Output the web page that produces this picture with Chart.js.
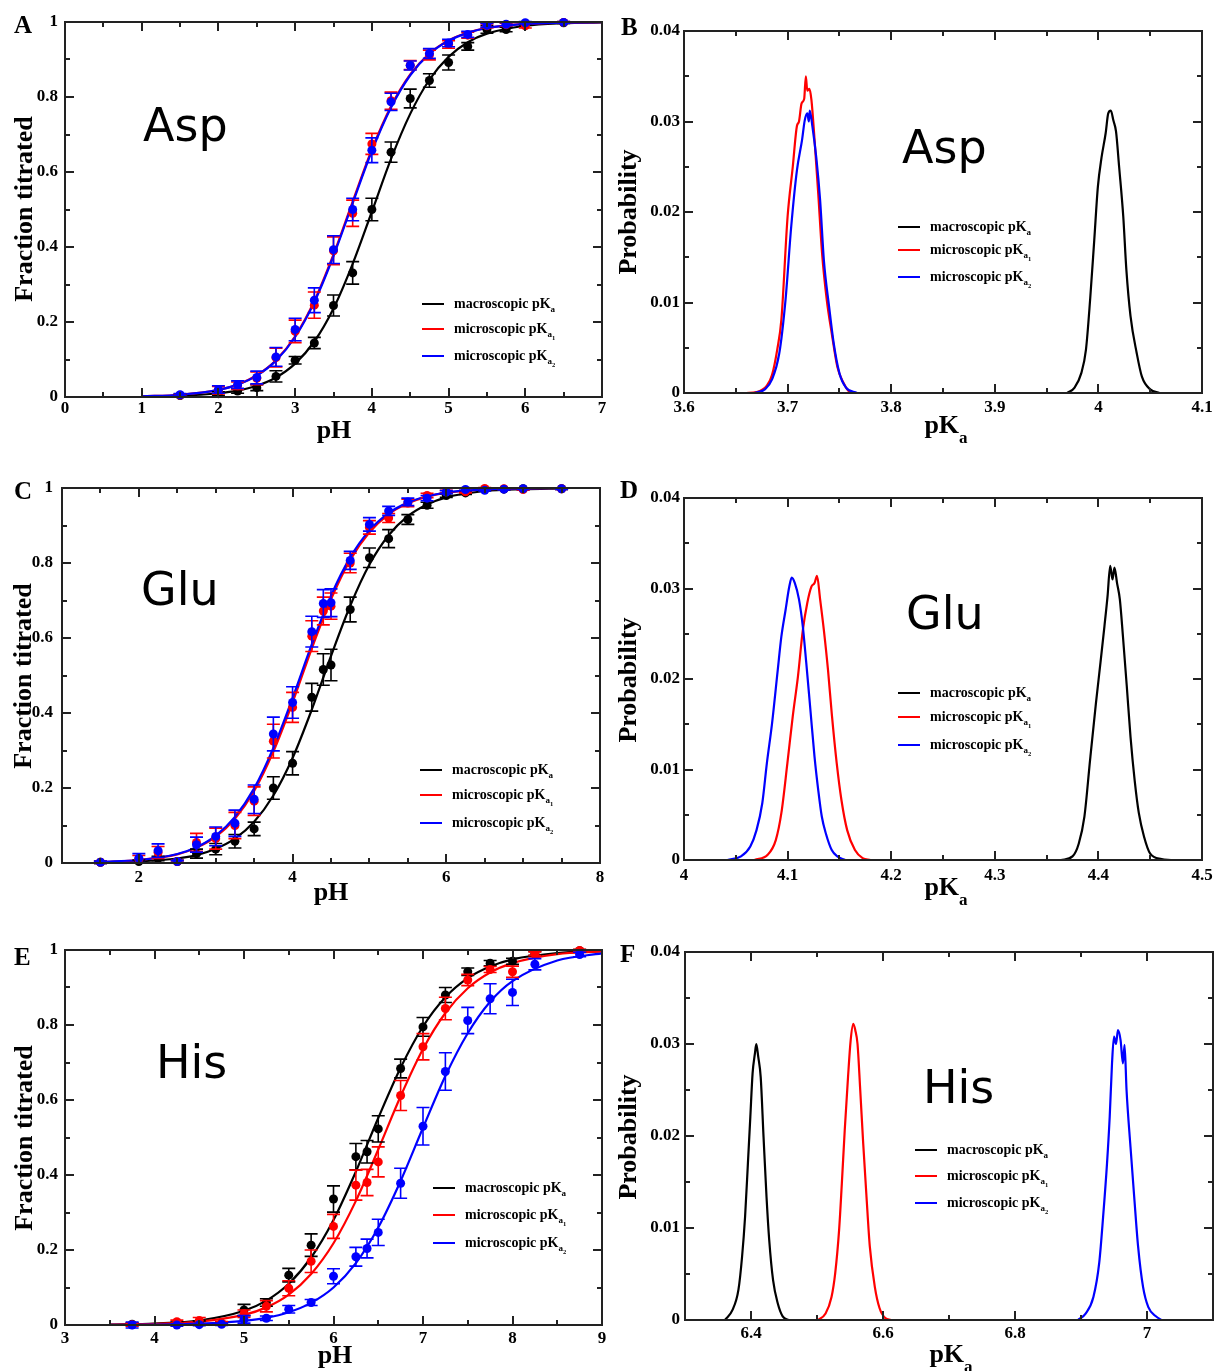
<!DOCTYPE html>
<html>
<head>
<meta charset="utf-8">
<title>pKa titration</title>
<script src="https://cdn.jsdelivr.net/npm/chart.js@4.4.1/dist/chart.umd.min.js"></script>
<style>
  html, body { margin: 0; padding: 0; background: #fff; overflow: hidden; }
  #page { position: relative; width: 1214px; height: 1371px; }
  #page canvas { position: absolute; }
</style>
</head>
<body>
<div id="page"></div>
<script>
// ---- Asp titration (A)
const aspPH = [1.5, 2, 2.25, 2.5, 2.75, 3, 3.25, 3.5, 3.75, 4, 4.25, 4.5, 4.75, 5, 5.25, 5.5, 5.75, 6, 6.5];
const aspMacro = [0.004, 0.009, 0.016, 0.025, 0.055, 0.098, 0.144, 0.244, 0.331, 0.50, 0.653, 0.796, 0.844, 0.892, 0.935, 0.98, 0.98, 0.996, 0.998];
const aspMacroErr = [0.003, 0.005, 0.006, 0.008, 0.015, 0.01, 0.015, 0.028, 0.03, 0.03, 0.027, 0.025, 0.018, 0.02, 0.01, 0.01, 0.006, 0.004, 0.002];
const aspMicro1 = [0.005, 0.018, 0.03, 0.05, 0.105, 0.175, 0.245, 0.39, 0.49, 0.675, 0.79, 0.885, 0.912, 0.94, 0.965, 0.99, 0.993, 0.99, 0.999];
const aspMicro1Err = [0.003, 0.01, 0.01, 0.017, 0.025, 0.03, 0.035, 0.037, 0.035, 0.028, 0.023, 0.012, 0.013, 0.01, 0.008, 0.005, 0.004, 0.006, 0.002];
const aspMicro2 = [0.006, 0.02, 0.033, 0.052, 0.107, 0.18, 0.258, 0.393, 0.50, 0.658, 0.787, 0.884, 0.916, 0.944, 0.967, 0.991, 0.994, 0.998, 0.999];
const aspMicro2Err = [0.003, 0.01, 0.01, 0.017, 0.025, 0.03, 0.033, 0.037, 0.03, 0.033, 0.023, 0.012, 0.013, 0.01, 0.008, 0.005, 0.004, 0.003, 0.002];
const aspFitPH = [1, 1.5, 2, 2.25, 2.5, 2.75, 3, 3.25, 3.5, 3.75, 4, 4.25, 4.5, 4.75, 5, 5.25, 5.5, 6, 6.5, 7];
const aspMacroFit = [0.001, 0.003, 0.010, 0.017, 0.030, 0.052, 0.089, 0.148, 0.236, 0.355, 0.494, 0.635, 0.755, 0.846, 0.907, 0.946, 0.969, 0.990, 0.997, 0.999];
const aspMicro1Fit = [0.002, 0.006, 0.019, 0.033, 0.058, 0.098, 0.162, 0.256, 0.380, 0.521, 0.660, 0.775, 0.860, 0.916, 0.951, 0.972, 0.984, 0.995, 0.998, 0.9995];
const aspMicro2Fit = [0.002, 0.006, 0.019, 0.033, 0.057, 0.097, 0.160, 0.253, 0.376, 0.517, 0.656, 0.772, 0.858, 0.915, 0.950, 0.971, 0.984, 0.995, 0.998, 0.9995];

// ---- Glu titration (C)
const gluPH = [1.5, 2, 2.25, 2.5, 2.75, 3, 3.25, 3.5, 3.75, 4, 4.25, 4.4, 4.5, 4.75, 5, 5.25, 5.5, 5.75, 6, 6.25, 6.5, 6.75, 7, 7.5];
const gluMacro = [0.002, 0.004, 0.012, 0.004, 0.025, 0.037, 0.058, 0.091, 0.20, 0.266, 0.442, 0.516, 0.528, 0.676, 0.814, 0.865, 0.916, 0.954, 0.98, 0.987, 0.996, 0.997, 0.998, 0.998];
const gluMacroErr = [0.003, 0.004, 0.006, 0.003, 0.012, 0.015, 0.018, 0.018, 0.03, 0.031, 0.037, 0.042, 0.042, 0.033, 0.026, 0.024, 0.013, 0.008, 0.005, 0.004, 0.003, 0.002, 0.002, 0.002];
const gluMicro1 = [0.002, 0.01, 0.028, 0.004, 0.055, 0.065, 0.10, 0.165, 0.325, 0.415, 0.605, 0.672, 0.685, 0.80, 0.895, 0.92, 0.96, 0.98, 0.99, 0.99, 0.999, 0.998, 0.996, 0.998];
const gluMicro1Err = [0.003, 0.01, 0.016, 0.003, 0.024, 0.028, 0.035, 0.038, 0.045, 0.04, 0.041, 0.037, 0.035, 0.026, 0.018, 0.012, 0.01, 0.006, 0.004, 0.003, 0.002, 0.002, 0.002, 0.002];
const gluMicro2 = [0.002, 0.013, 0.033, 0.004, 0.049, 0.071, 0.106, 0.17, 0.344, 0.428, 0.617, 0.692, 0.694, 0.807, 0.903, 0.939, 0.963, 0.973, 0.989, 0.996, 0.994, 0.997, 0.998, 0.998];
const gluMicro2Err = [0.003, 0.012, 0.018, 0.003, 0.02, 0.025, 0.035, 0.038, 0.045, 0.042, 0.041, 0.037, 0.037, 0.024, 0.018, 0.012, 0.01, 0.007, 0.004, 0.003, 0.002, 0.002, 0.002, 0.002];
const gluFitPH = [1.5, 2, 2.5, 2.75, 3, 3.25, 3.5, 3.75, 4, 4.25, 4.5, 4.75, 5, 5.25, 5.5, 5.75, 6, 6.5, 7, 7.5];
const gluMacroFit = [0.001, 0.004, 0.012, 0.021, 0.038, 0.065, 0.110, 0.180, 0.280, 0.409, 0.552, 0.686, 0.796, 0.874, 0.925, 0.956, 0.975, 0.992, 0.997, 0.999];
const gluMicro1Fit = [0.002, 0.008, 0.023, 0.041, 0.070, 0.118, 0.192, 0.297, 0.428, 0.572, 0.703, 0.808, 0.882, 0.930, 0.959, 0.977, 0.987, 0.996, 0.999, 1.0];
const gluMicro2Fit = [0.003, 0.008, 0.024, 0.042, 0.073, 0.123, 0.199, 0.307, 0.440, 0.583, 0.713, 0.815, 0.887, 0.933, 0.961, 0.978, 0.988, 0.996, 0.999, 1.0];

// ---- His titration (E)
const hisPH = [3.75, 4.25, 4.5, 4.75, 5, 5.25, 5.5, 5.75, 6, 6.25, 6.375, 6.5, 6.75, 7, 7.25, 7.5, 7.75, 8, 8.25, 8.75];
const hisMacro = [0.002, 0.004, 0.006, 0.004, 0.04, 0.06, 0.133, 0.213, 0.336, 0.449, 0.462, 0.523, 0.684, 0.795, 0.88, 0.942, 0.965, 0.97, 0.991, 0.998];
const hisMacroErr = [0.004, 0.004, 0.005, 0.004, 0.015, 0.01, 0.018, 0.03, 0.035, 0.035, 0.03, 0.035, 0.025, 0.025, 0.02, 0.01, 0.007, 0.008, 0.005, 0.003];
const hisMicro1 = [0.001, 0.009, 0.012, 0.005, 0.03, 0.05, 0.098, 0.17, 0.263, 0.373, 0.38, 0.435, 0.612, 0.742, 0.844, 0.92, 0.948, 0.942, 0.99, 0.999];
const hisMicro1Err = [0.004, 0.004, 0.008, 0.004, 0.01, 0.015, 0.02, 0.03, 0.032, 0.04, 0.035, 0.04, 0.04, 0.035, 0.03, 0.015, 0.008, 0.015, 0.005, 0.003];
const hisMicro2 = [0.0, 0.0, 0.001, 0.002, 0.015, 0.018, 0.042, 0.06, 0.13, 0.182, 0.204, 0.247, 0.378, 0.53, 0.676, 0.812, 0.87, 0.887, 0.962, 0.988];
const hisMicro2Err = [0.008, 0.003, 0.003, 0.003, 0.01, 0.006, 0.01, 0.008, 0.02, 0.025, 0.025, 0.035, 0.04, 0.05, 0.05, 0.035, 0.04, 0.035, 0.015, 0.006];
const hisFitPH = [3.5, 4, 4.5, 5, 5.25, 5.5, 5.75, 6, 6.25, 6.5, 6.75, 7, 7.25, 7.5, 7.75, 8, 8.5, 9];
const hisMacroFit = [0.001, 0.004, 0.012, 0.038, 0.065, 0.110, 0.180, 0.280, 0.409, 0.552, 0.686, 0.796, 0.874, 0.925, 0.956, 0.975, 0.992, 0.997];
const hisMicro1Fit = [0.001, 0.003, 0.009, 0.027, 0.047, 0.081, 0.136, 0.218, 0.331, 0.468, 0.610, 0.736, 0.832, 0.898, 0.940, 0.965, 0.989, 0.996];
const hisMicro2Fit = [0.0004, 0.001, 0.0035, 0.011, 0.019, 0.034, 0.059, 0.100, 0.165, 0.260, 0.384, 0.526, 0.664, 0.778, 0.862, 0.917, 0.972, 0.991];

// ---- pKa distributions (B, D, F)
const aspMacroPka = [3.970, 3.977, 3.9835, 3.988, 3.992, 3.996, 3.9995, 4.003, 4.007, 4.0095, 4.012, 4.0145, 4.017, 4.020, 4.024, 4.027, 4.031, 4.037, 4.042, 4.050, 4.059];
const aspMacroProb = [0, 0.0006, 0.0022, 0.0048, 0.0103, 0.0169, 0.0228, 0.026, 0.0287, 0.0309, 0.0312, 0.0301, 0.0289, 0.025, 0.0195, 0.0136, 0.0085, 0.0044, 0.0018, 0.0004, 0];
const aspMicro1Pka = [3.660, 3.670, 3.680, 3.685, 3.690, 3.694, 3.700, 3.705, 3.709, 3.711, 3.7135, 3.7160, 3.7176, 3.7190, 3.7210, 3.7230, 3.7260, 3.7296, 3.7333, 3.7378, 3.7426, 3.7480, 3.7540, 3.7590, 3.7630];
const aspMicro1Prob = [0, 0.0001, 0.0008, 0.002, 0.0048, 0.0081, 0.0195, 0.025, 0.0295, 0.0300, 0.0320, 0.0325, 0.0350, 0.0334, 0.0336, 0.0324, 0.028, 0.022, 0.0154, 0.0103, 0.0066, 0.0029, 0.0011, 0.0002, 0];
const aspMicro2Pka = [3.668, 3.678, 3.685, 3.692, 3.698, 3.7035, 3.709, 3.714, 3.7165, 3.719, 3.7205, 3.7214, 3.724, 3.7277, 3.7314, 3.735, 3.740, 3.7445, 3.750, 3.7564, 3.767];
const aspMicro2Prob = [0, 0.0004, 0.0015, 0.0044, 0.0103, 0.0184, 0.0246, 0.028, 0.0301, 0.0309, 0.0300, 0.0312, 0.0294, 0.026, 0.0213, 0.0147, 0.0096, 0.0055, 0.0022, 0.0006, 0];

const gluMacroPka = [4.364, 4.375, 4.381, 4.3865, 4.392, 4.3976, 4.402, 4.4058, 4.4088, 4.4114, 4.4136, 4.4155, 4.418, 4.4207, 4.4237, 4.4274, 4.431, 4.435, 4.439, 4.444, 4.450, 4.461, 4.470];
const gluMacroProb = [0, 0.0004, 0.0018, 0.0048, 0.0111, 0.0173, 0.0218, 0.0258, 0.0291, 0.0325, 0.031, 0.0323, 0.0306, 0.0288, 0.0247, 0.0192, 0.0136, 0.0088, 0.0052, 0.0026, 0.0007, 0.0001, 0];
const gluMicro1Pka = [4.068, 4.081, 4.0886, 4.094, 4.0998, 4.105, 4.110, 4.1147, 4.119, 4.123, 4.126, 4.1284, 4.1314, 4.135, 4.139, 4.1426, 4.1474, 4.152, 4.1575, 4.165, 4.1724, 4.180];
const gluMicro1Prob = [0, 0.0006, 0.0022, 0.0052, 0.0107, 0.0159, 0.0203, 0.0254, 0.0284, 0.0302, 0.0306, 0.0314, 0.0288, 0.0254, 0.021, 0.0162, 0.0107, 0.0066, 0.0033, 0.0011, 0.0002, 0];
const gluMicro2Pka = [4.042, 4.055, 4.064, 4.070, 4.0756, 4.080, 4.085, 4.0905, 4.094, 4.098, 4.1016, 4.104, 4.107, 4.111, 4.1147, 4.118, 4.122, 4.126, 4.1296, 4.133, 4.137, 4.1426, 4.148, 4.1556];
const gluMicro2Prob = [0, 0.0004, 0.0015, 0.0033, 0.0063, 0.0107, 0.0151, 0.021, 0.0247, 0.0276, 0.0302, 0.0312, 0.0306, 0.0288, 0.0258, 0.0218, 0.0166, 0.0114, 0.0077, 0.0048, 0.0029, 0.0011, 0.0004, 0];

const hisMacroPka = [6.3606, 6.372, 6.381, 6.3865, 6.391, 6.3953, 6.399, 6.4024, 6.406, 6.408, 6.411, 6.4147, 6.419, 6.4235, 6.4276, 6.4335, 6.4406, 6.448, 6.457];
const hisMacroProb = [0, 0.0011, 0.0033, 0.0069, 0.0112, 0.017, 0.0221, 0.0268, 0.029, 0.030, 0.0286, 0.0264, 0.0199, 0.0134, 0.0087, 0.0043, 0.0018, 0.0004, 0];
const hisMicro1Pka = [6.5012, 6.513, 6.522, 6.5276, 6.5335, 6.5376, 6.542, 6.547, 6.551, 6.555, 6.558, 6.5614, 6.5655, 6.570, 6.575, 6.580, 6.5876, 6.5947, 6.6035, 6.612];
const hisMicro1Prob = [0, 0.0007, 0.0025, 0.0051, 0.0098, 0.0148, 0.0206, 0.0264, 0.0304, 0.0322, 0.0315, 0.030, 0.025, 0.0192, 0.0134, 0.008, 0.0036, 0.0013, 0.0002, 0];
const hisMicro2Pka = [6.8953, 6.907, 6.9188, 6.9276, 6.9335, 6.9394, 6.9435, 6.947, 6.950, 6.953, 6.956, 6.960, 6.9635, 6.966, 6.969, 6.975, 6.9806, 6.9865, 6.994, 7.002, 7.0135, 7.022];
const hisMicro2Prob = [0, 0.0007, 0.0025, 0.0062, 0.0112, 0.017, 0.0221, 0.0279, 0.0308, 0.030, 0.0315, 0.0304, 0.0279, 0.0299, 0.025, 0.0188, 0.0134, 0.008, 0.0036, 0.0014, 0.0004, 0];

// ---- tick values
const aspPhTicks = [0, 1, 2, 3, 4, 5, 6, 7];
const gluPhTicks = [2, 4, 6, 8];
const hisPhTicks = [3, 4, 5, 6, 7, 8, 9];
const fracTicks = [0, 0.2, 0.4, 0.6, 0.8, 1];
const aspPkaTicks = [3.6, 3.7, 3.8, 3.9, 4.0, 4.1];
const gluPkaTicks = [4.0, 4.1, 4.2, 4.3, 4.4, 4.5];
const hisPkaTicks = [6.4, 6.6, 6.8, 7.0];
const probTicks = [0, 0.01, 0.02, 0.03, 0.04];

const seriesNames = ['macroscopic pK', 'microscopic pK', 'microscopic pK'];
const seriesSubs = ['', '1', '2'];

const SERIF = '"Liberation Serif", "Times New Roman", serif';
const SANS = '"DejaVu Sans", Verdana, sans-serif';
const FRAME = '#222';
const COLORS = ['#000000', '#ff0000', '#0000ff'];

function pts(xs, ys) { return xs.map((x, i) => ({ x: x, y: ys[i] })); }

// Points with error bars plus fitted curve, for each of the three series
function titrationSets(ph, vals, errs, fitPh, fits) {
	let sets = [];
	COLORS.forEach((c, k) => {
		sets.push({
			type: 'scatter', data: pts(ph, vals[k]), errors: errs[k],
			backgroundColor: c, borderColor: c, pointRadius: 4.5, pointBorderWidth: 0,
			clip: false, order: 3 - k
		});
		sets.push({
			type: 'line', data: pts(fitPh, fits[k]), borderColor: c, borderWidth: 2.2,
			pointRadius: 0, fill: false, cubicInterpolationMode: 'monotone', order: 6 - k
		});
	});
	return sets;
}

function histSets(pairs) {
	return pairs.map(([xs, ys], k) => ({
		type: 'line', data: pts(xs, ys), borderColor: COLORS[k], borderWidth: 2.2,
		pointRadius: 0, fill: false, cubicInterpolationMode: 'monotone', order: 3 - k
	}));
}

function minorTicks(min, max, step, majors) {
	let out = [];
	for (let k = 1; min + k * step < max - 1e-9; k++) {
		let v = +(min + k * step).toFixed(6);
		if (!majors.some(m => Math.abs(m - v) < 1e-9)) out.push(v);
	}
	return out;
}

const panels = [
	{
		box: [0, 0, 607, 460], plot: [65, 22, 602, 397],
		x: { min: 0, max: 7, ticks: aspPhTicks, minor: 0.5, pad: 1 },
		y: { min: 0, max: 1, ticks: fracTicks, minor: 0.1, pad: 7 },
		sets: titrationSets(aspPH, [aspMacro, aspMicro1, aspMicro2], [aspMacroErr, aspMicro1Err, aspMicro2Err],
			aspFitPH, [aspMacroFit, aspMicro1Fit, aspMicro2Fit]),
		letter: ['A', 14, 33], name: ['Asp', 143, 141],
		xTitle: { text: 'pH', cx: 334, y: 438 }, yTitle: { text: 'Fraction titrated', x: 32, y: 209 },
		legend: { x: 422, rows: [304, 329, 356] }
	},
	{
		box: [607, 0, 607, 460], plot: [684, 31, 1202, 393],
		x: { min: 3.6, max: 4.1, ticks: aspPkaTicks, minor: 0.05, pad: 4 },
		y: { min: 0, max: 0.04, ticks: probTicks, minor: 0.005, pad: 4 },
		sets: histSets([[aspMacroPka, aspMacroProb], [aspMicro1Pka, aspMicro1Prob], [aspMicro2Pka, aspMicro2Prob]]),
		letter: ['B', 621, 35], name: ['Asp', 902, 163],
		xTitle: { text: 'pK', sub: 'a', cx: 946, y: 433 }, yTitle: { text: 'Probability', x: 636, y: 212 },
		legend: { x: 898, rows: [227, 250, 277] }
	},
	{
		box: [0, 460, 607, 465], plot: [62, 488, 600, 863],
		x: { min: 1, max: 8, ticks: gluPhTicks, minor: 0.5, pad: 4 },
		y: { min: 0, max: 1, ticks: fracTicks, minor: 0.1, pad: 9 },
		sets: titrationSets(gluPH, [gluMacro, gluMicro1, gluMicro2], [gluMacroErr, gluMicro1Err, gluMicro2Err],
			gluFitPH, [gluMacroFit, gluMicro1Fit, gluMicro2Fit]),
		letter: ['C', 14, 499], name: ['Glu', 141, 605],
		xTitle: { text: 'pH', cx: 331, y: 900 }, yTitle: { text: 'Fraction titrated', x: 31, y: 676 },
		legend: { x: 420, rows: [770, 795, 823] }
	},
	{
		box: [607, 460, 607, 465], plot: [684, 498, 1202, 860],
		x: { min: 4, max: 4.5, ticks: gluPkaTicks, minor: 0.05, pad: 5 },
		y: { min: 0, max: 0.04, ticks: probTicks, minor: 0.005, pad: 4 },
		sets: histSets([[gluMacroPka, gluMacroProb], [gluMicro1Pka, gluMicro1Prob], [gluMicro2Pka, gluMicro2Prob]]),
		letter: ['D', 620, 498], name: ['Glu', 906, 629],
		xTitle: { text: 'pK', sub: 'a', cx: 946, y: 895 }, yTitle: { text: 'Probability', x: 636, y: 680 },
		legend: { x: 898, rows: [693, 717, 745] }
	},
	{
		box: [0, 925, 607, 446], plot: [65, 950, 602, 1325],
		x: { min: 3, max: 9, ticks: hisPhTicks, minor: 0.5, pad: 3 },
		y: { min: 0, max: 1, ticks: fracTicks, minor: 0.1, pad: 7 },
		sets: titrationSets(hisPH, [hisMacro, hisMicro1, hisMicro2], [hisMacroErr, hisMicro1Err, hisMicro2Err],
			hisFitPH, [hisMacroFit, hisMicro1Fit, hisMicro2Fit]),
		letter: ['E', 14, 965], name: ['His', 156, 1078],
		xTitle: { text: 'pH', cx: 335, y: 1363 }, yTitle: { text: 'Fraction titrated', x: 32, y: 1138 },
		legend: { x: 433, rows: [1188, 1215, 1243] }
	},
	{
		box: [607, 925, 607, 446], plot: [685, 952, 1213, 1320],
		x: { min: 6.3, max: 7.1, ticks: hisPkaTicks, minor: 0.1, pad: 3 },
		y: { min: 0, max: 0.04, ticks: probTicks, minor: 0.005, pad: 5 },
		sets: histSets([[hisMacroPka, hisMacroProb], [hisMicro1Pka, hisMicro1Prob], [hisMicro2Pka, hisMicro2Prob]]),
		letter: ['F', 620, 962], name: ['His', 923, 1103],
		xTitle: { text: 'pK', sub: 'a', cx: 951, y: 1362 }, yTitle: { text: 'Probability', x: 636, y: 1137 },
		legend: { x: 915, rows: [1150, 1176, 1203] }
	}
];

// Error bars under each point dataset
const errorBars = {
	id: 'errorBars',
	beforeDatasetDraw(chart, args) {
		let ds = chart.data.datasets[args.index];
		if (!ds.errors) return;
		let ctx = chart.ctx, xs = chart.scales.x, ys = chart.scales.y;
		ctx.save();
		ctx.strokeStyle = ds.borderColor;
		ctx.lineWidth = 1.6;
		ctx.beginPath();
		ds.data.forEach((pt, i) => {
			let e = ds.errors[i] || 0;
			let x = xs.getPixelForValue(pt.x);
			let y1 = ys.getPixelForValue(pt.y + e), y2 = ys.getPixelForValue(pt.y - e);
			ctx.moveTo(x, y1); ctx.lineTo(x, y2);
			ctx.moveTo(x - 6.5, y1); ctx.lineTo(x + 6.5, y1);
			ctx.moveTo(x - 6.5, y2); ctx.lineTo(x + 6.5, y2);
		});
		ctx.stroke();
		ctx.restore();
	}
};

// text runs with subscripts: [text, size, dy]
function partsWidth(ctx, parts) {
	let w = 0;
	parts.forEach(([s, size]) => { ctx.font = 'bold ' + size + 'px ' + SERIF; w += ctx.measureText(s).width; });
	return w;
}
function drawParts(ctx, x, y, parts) {
	parts.forEach(([s, size, dy]) => {
		ctx.font = 'bold ' + size + 'px ' + SERIF;
		ctx.fillText(s, x, y + dy);
		x += ctx.measureText(s).width;
	});
}

// Frame, inward ticks, titles, legend and labels
function decorFor(p) {
	return {
		id: 'decor',
		afterDraw(chart) {
			let ctx = chart.ctx, a = chart.chartArea, xs = chart.scales.x, ys = chart.scales.y;
			let ox = p.box[0], oy = p.box[1];
			ctx.save();
			ctx.strokeStyle = FRAME;
			ctx.lineWidth = 2;
			ctx.beginPath();
			let xt = (vals, len) => vals.forEach(v => {
				let x = Math.round(xs.getPixelForValue(v));
				ctx.moveTo(x, a.bottom); ctx.lineTo(x, a.bottom - len);
				ctx.moveTo(x, a.top); ctx.lineTo(x, a.top + len);
			});
			let yt = (vals, len) => vals.forEach(v => {
				let y = Math.round(ys.getPixelForValue(v));
				ctx.moveTo(a.left, y); ctx.lineTo(a.left + len, y);
				ctx.moveTo(a.right, y); ctx.lineTo(a.right - len, y);
			});
			xt(p.x.ticks, 9); xt(minorTicks(p.x.min, p.x.max, p.x.minor, p.x.ticks), 5);
			yt(p.y.ticks, 9); yt(minorTicks(p.y.min, p.y.max, p.y.minor, p.y.ticks), 5);
			ctx.stroke();
			ctx.strokeRect(a.left, a.top, a.right - a.left, a.bottom - a.top);

			ctx.fillStyle = '#000';
			ctx.textAlign = 'left';
			ctx.textBaseline = 'alphabetic';
			ctx.font = 'bold 25px ' + SERIF;
			ctx.fillText(p.letter[0], p.letter[1] - ox, p.letter[2] - oy);
			ctx.font = '46px ' + SANS;
			ctx.fillText(p.name[0], p.name[1] - ox, p.name[2] - oy);

			let t = p.xTitle;
			let tp = [[t.text, 26, 0]];
			if (t.sub) tp.push([t.sub, 17, 10]);
			drawParts(ctx, t.cx - partsWidth(ctx, tp) / 2 - ox, t.y - oy, tp);

			ctx.save();
			ctx.translate(p.yTitle.x - ox, p.yTitle.y - oy);
			ctx.rotate(-Math.PI / 2);
			ctx.textAlign = 'center';
			ctx.font = 'bold 26px ' + SERIF;
			ctx.fillText(p.yTitle.text, 0, 0);
			ctx.restore();

			let L = p.legend;
			L.rows.forEach((ry, k) => {
				ctx.strokeStyle = COLORS[k];
				ctx.lineWidth = 2;
				ctx.beginPath();
				ctx.moveTo(L.x - ox, ry - oy); ctx.lineTo(L.x + 22 - ox, ry - oy);
				ctx.stroke();
				let parts = [[seriesNames[k], 14, 0], ['a', 9, 4]];
				if (seriesSubs[k]) parts.push([seriesSubs[k], 6.5, 7]);
				drawParts(ctx, L.x + 32 - ox, ry + 4 - oy, parts);
			});
			ctx.restore();
		}
	};
}

function axis(a, size) {
	return {
		type: 'linear', min: a.min, max: a.max,
		grid: { display: false, drawTicks: false },
		border: { display: false },
		ticks: {
			autoSkip: false, maxRotation: 0, padding: a.pad, color: '#000',
			font: { family: SERIF, weight: 'bold', size: 17 },
			callback: v => String(+v.toFixed(3))
		},
		afterBuildTicks: s => { s.ticks = a.ticks.map(v => ({ value: v })); },
		afterFit: s => {
			if (s.isHorizontal()) s.height = size; else s.width = size;
			s.paddingLeft = s.paddingRight = s.paddingTop = s.paddingBottom = 0;
		}
	};
}

function makePanel(p) {
	let [bx, by, bw, bh] = p.box;
	let [pl, pt, pr, pb] = p.plot;
	let canvas = document.createElement('canvas');
	canvas.width = bw; canvas.height = bh;
	canvas.style.left = bx + 'px'; canvas.style.top = by + 'px';
	document.getElementById('page').appendChild(canvas);
	return new Chart(canvas, {
		type: 'scatter',
		data: { datasets: p.sets },
		options: {
			responsive: false, animation: false, events: [],
			layout: { padding: { top: pt - by, right: bx + bw - pr, left: 0, bottom: 0 } },
			plugins: { legend: { display: false }, tooltip: { enabled: false } },
			scales: { x: axis(p.x, by + bh - pb), y: axis(p.y, pl - bx) }
		},
		plugins: [errorBars, decorFor(p)]
	});
}

panels.forEach(makePanel);
</script>
</body>
</html>
